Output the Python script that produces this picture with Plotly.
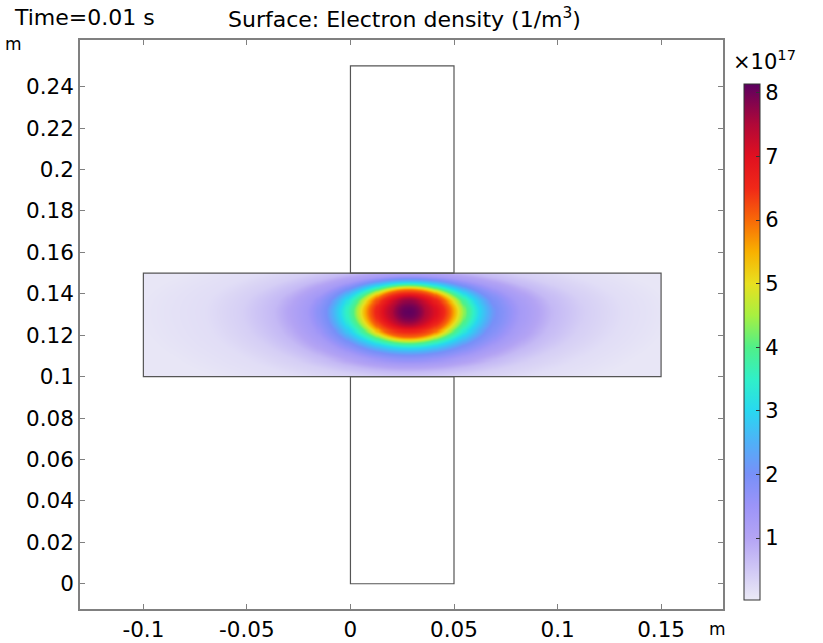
import numpy as np
import plotly.graph_objects as go

# ---- data (electron density, units of 1e17 1/m^3) ----
# Peak position (m) and peak value
peak_x, peak_y, peak_value = 0.0280, 0.1315, 8.1
# Contour levels and the distance (m) from the peak at which each level is
# reached, read along the four directions (left / right / up / down)
levels = [7.5, 6.5, 6.0, 5.0, 4.0, 3.0, 2.0, 1.3, 0.7, 0.4, 0.2, 0.08]
dist_left = [0.008, 0.016, 0.019, 0.023, 0.027, 0.033, 0.040, 0.049, 0.065, 0.080, 0.098, 0.130]
dist_right = [0.008, 0.017, 0.020, 0.024, 0.028, 0.034, 0.042, 0.054, 0.070, 0.085, 0.103, 0.126]
dist_up = [0.0064, 0.0089, 0.0105, 0.0117, 0.0129, 0.0142, 0.0161, 0.0177, 0.0205, 0.023, 0.027, 0.033]
dist_down = [0.0064, 0.0097, 0.0121, 0.0137, 0.0153, 0.0177, 0.0212, 0.025, 0.029, 0.032, 0.037, 0.045]

x_ticks = [-0.1, -0.05, 0, 0.05, 0.1, 0.15]
x_tick_text = ['-0.1', '-0.05', '0', '0.05', '0.1', '0.15']
y_ticks = [0, 0.02, 0.04, 0.06, 0.08, 0.1, 0.12, 0.14, 0.16, 0.18, 0.2, 0.22, 0.24]
y_tick_text = ['0', '0.02', '0.04', '0.06', '0.08', '0.1', '0.12', '0.14', '0.16',
               '0.18', '0.2', '0.22', '0.24']
cbar_ticks = [1, 2, 3, 4, 5, 6, 7, 8]
c_min, c_max = 0.025, 8.137

# geometry of the domains (m): (x0, y0, x1, y1)
horiz_rect = (-0.1, 0.1, 0.15, 0.15)
vert_rect = (0.0, 0.0, 0.05, 0.25)

# ---- build the surface on the horizontal domain from the read contours ----
x0, y0, x1, y1 = horiz_rect
gx = np.linspace(x0, x1, 501)
gy = np.linspace(y0, y1, 101)
X, Y = np.meshgrid(gx, gy)
DX = X - peak_x
DY = Y - peak_y
lv = np.array(levels)
DXk = np.where(DX[None] < 0, np.array(dist_left)[:, None, None], np.array(dist_right)[:, None, None])
DYk = np.where(DY[None] > 0, np.array(dist_up)[:, None, None], np.array(dist_down)[:, None, None])
g = (DX[None] / DXk) ** 2 + (DY[None] / DYk) ** 2
s = 1.0 / np.maximum(g, 1e-12)          # increases toward lower levels; =1 on the contour
Z = np.empty_like(X)
s_full = np.concatenate([np.zeros((1,) + X.shape), s], axis=0)
v_full = np.concatenate([[peak_value], lv])
for j in range(X.shape[0]):
    for i in range(X.shape[1]):
        Z[j, i] = np.interp(1.0, s_full[:, j, i], v_full)

colorscale = [
    [0.000, '#ebeaf6'],
    [0.120, '#b4a4f4'],
    [0.182, '#9c94f8'],
    [0.2435, '#7890f8'],
    [0.305, '#50b0f8'],
    [0.367, '#28d8f0'],
    [0.428, '#30f0c8'],
    [0.490, '#50f088'],
    [0.552, '#a8f040'],
    [0.613, '#e8e020'],
    [0.675, '#f8b000'],
    [0.737, '#f86808'],
    [0.798, '#f02818'],
    [0.860, '#e01020'],
    [0.922, '#b00838'],
    [1.000, '#5c0060'],
]

FONT = 'DejaVu Sans'
fig = go.Figure()
fig.add_trace(go.Heatmap(
    x=gx, y=gy, z=Z, zsmooth='best',
    colorscale=colorscale, zmin=c_min, zmax=c_max,
    hoverinfo='skip',
    colorbar=dict(
        thickness=16, thicknessmode='pixels',
        len=516, lenmode='pixels',
        x=1.0327, xanchor='left', xpad=0,
        y=0.469, yanchor='middle', ypad=0,
        outlinewidth=1, outlinecolor='#333333',
        tickvals=cbar_ticks, ticks='inside', ticklen=4, tickcolor='#333333',
        tickfont=dict(family=FONT, size=21, color='black'),
    ),
))

shapes = []
# white bands hiding any heatmap overflow outside the horizontal rectangle
for bx0, by0, bx1, by1 in [
    (x0 - 0.006, y0 - 0.003, x0, y1 + 0.003),
    (x1, y0 - 0.003, x1 + 0.006, y1 + 0.003),
    (x0 - 0.006, y1, x1 + 0.006, y1 + 0.003),
    (x0 - 0.006, y0 - 0.003, x1 + 0.006, y0),
]:
    shapes.append(dict(type='rect', xref='x', yref='y', x0=bx0, y0=by0, x1=bx1, y1=by1,
                       fillcolor='white', line=dict(width=0), layer='above'))
line_style = dict(color='#555555', width=1.2)
shapes.append(dict(type='rect', xref='x', yref='y', x0=x0, y0=y0, x1=x1, y1=y1,
                   line=line_style, layer='above'))
vx0, vy0, vx1, vy1 = vert_rect
shapes.append(dict(type='rect', xref='x', yref='y', x0=vx0, y0=y1, x1=vx1, y1=vy1,
                   line=line_style, layer='above'))
shapes.append(dict(type='rect', xref='x', yref='y', x0=vx0, y0=vy0, x1=vx1, y1=y0,
                   line=line_style, layer='above'))

axis_common = dict(showgrid=False, zeroline=False, showline=True, linecolor='#808080',
                   linewidth=1.5, mirror='ticks', ticks='inside', ticklen=5,
                   tickcolor='#808080', automargin=False,
                   tickfont=dict(family=FONT, size=21.5, color='black'))

fig.update_layout(
    width=823, height=643, autosize=False,
    margin=dict(l=80, r=100, t=40, b=34, autoexpand=False),
    paper_bgcolor='white', plot_bgcolor='white',
    font=dict(family=FONT, size=20, color='black'),
    xaxis=dict(range=[-0.1306, 0.1799], tickvals=x_ticks, ticktext=x_tick_text, **axis_common),
    yaxis=dict(range=[-0.0122, 0.2625], tickvals=y_ticks, ticktext=y_tick_text, **axis_common),
    shapes=shapes,
    annotations=[
        dict(text='Surface: Electron density (1/m<sup>3</sup>)', xref='paper', yref='paper',
             x=0.504, y=1.0387, xanchor='center', yanchor='middle', showarrow=False,
             font=dict(family=FONT, size=22, color='black')),
        dict(text='Time=0.01 s', xref='paper', yref='paper', x=(12 - 80) / 643, y=1.0387,
             xanchor='left', yanchor='middle', showarrow=False,
             font=dict(family=FONT, size=22, color='black')),
        dict(text='m', xref='paper', yref='paper', x=(3 - 80) / 643, y=(609 - 44) / 569,
             xanchor='left', yanchor='middle', showarrow=False,
             font=dict(family=FONT, size=17, color='black')),
        dict(text='m', xref='paper', yref='paper', x=(717 - 80) / 643, y=(609 - 629) / 569,
             xanchor='center', yanchor='middle', showarrow=False,
             font=dict(family=FONT, size=17, color='black')),
        dict(text='×10<sup>17</sup>', xref='paper', yref='paper', x=(731 - 80) / 643,
             y=(609 - 60) / 569, xanchor='left', yanchor='middle', showarrow=False,
             font=dict(family=FONT, size=21, color='black')),
    ],
)

fig.write_html('out.html', config={'displayModeBar': False},
               post_script="document.body.style.margin='0';")
